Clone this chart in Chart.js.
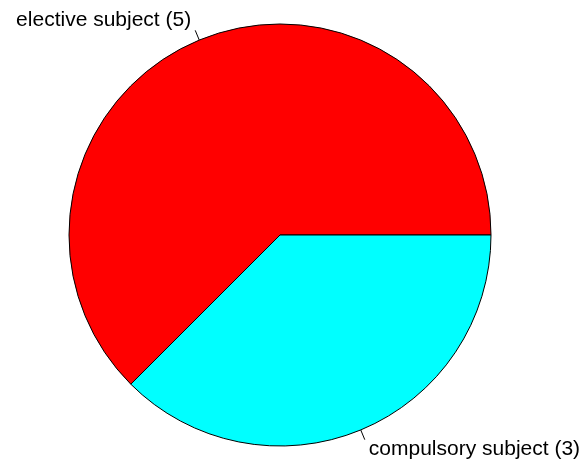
<!DOCTYPE html>
<html>
<head>
<meta charset="utf-8">
<script src="https://cdn.jsdelivr.net/npm/chart.js@4"></script>
<style>
  html, body { margin: 0; padding: 0; background: #fff; }
  canvas { display: block; }
</style>
</head>
<body>
<canvas id="pieChart" width="588" height="466"></canvas>
<script>
// data
const categories = ['elective subject', 'compulsory subject'];
const counts = [5, 3];
const sliceColors = ['#ff0000', '#00ffff'];

// draws the outside labels with their little tick lines, like base R pie()
const pieLabels = {
  id: 'pieLabels',
  afterDraw(chart) {
    const ctx = chart.ctx;
    const arcs = chart.getDatasetMeta(0).data;
    ctx.save();
    ctx.font = '21px "Liberation Sans", Arial, sans-serif';
    ctx.fillStyle = '#000';
    ctx.strokeStyle = '#000';
    ctx.lineWidth = 1;
    ctx.textBaseline = 'middle';
    arcs.forEach(function(arc, i) {
      const mid = (arc.startAngle + arc.endAngle) / 2;
      const r = arc.outerRadius;
      const c = Math.cos(mid), s = Math.sin(mid);
      ctx.beginPath();
      ctx.moveTo(arc.x + r * c, arc.y + r * s);
      ctx.lineTo(arc.x + 1.05 * r * c, arc.y + 1.05 * r * s);
      ctx.stroke();
      ctx.textAlign = c < 0 ? 'right' : 'left';
      ctx.fillText(categories[i] + ' (' + counts[i] + ')', arc.x + 1.1 * r * c, arc.y + 1.1 * r * s);
    });
    ctx.restore();
  }
};

const config = {
  type: 'pie',
  data: {
    labels: categories,
    datasets: [{
      data: counts,
      backgroundColor: sliceColors,
      borderColor: '#000',
      borderWidth: 1
    }]
  },
  options: {
    responsive: false,
    animation: false,
    rotation: 225,
    radius: 211,
    layout: { padding: { left: 69, right: 97, top: 24, bottom: 20 } },
    plugins: {
      legend: { display: false },
      tooltip: { enabled: false }
    }
  },
  plugins: [pieLabels]
};

new Chart(document.getElementById('pieChart'), config);
</script>
</body>
</html>
